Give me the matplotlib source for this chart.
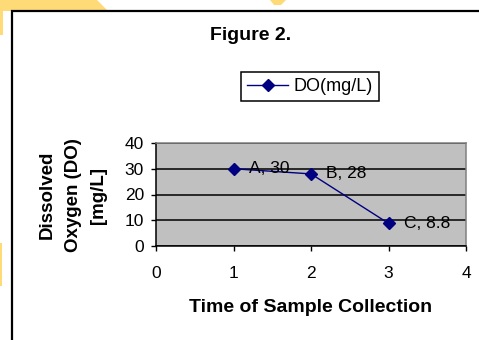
import matplotlib.pyplot as plt
from matplotlib.patches import Rectangle, Polygon

plt.rcParams['font.family'] = ['Liberation Sans', 'DejaVu Sans']

# data
sample_time = [1, 2, 3]
do_values = [30, 28, 8.8]
point_names = ['A', 'B', 'C']
x_ticks = [0, 1, 2, 3, 4]
y_ticks = [0, 10, 20, 30, 40]

W, H = 479, 340
fig = plt.figure(figsize=(W / 100, H / 100), dpi=100)
fig.patch.set_facecolor('white')

def fx(px):
    return px / W

def fy(py):
    return 1 - py / H

# yellow slide decoration bits around the chart frame
yellow = '#ffdb78'
fig.patches.append(Polygon([(fx(0), fy(0)), (fx(97), fy(0)), (fx(108), fy(11)),
                            (fx(3), fy(11)), (fx(3), fy(35)), (fx(0), fy(35))],
                           closed=True, transform=fig.transFigure, facecolor=yellow,
                           edgecolor='none', zorder=0))
fig.patches.append(Polygon([(fx(270), fy(0)), (fx(286), fy(0)), (fx(281), fy(5)), (fx(274), fy(5))],
                           closed=True, transform=fig.transFigure, facecolor=yellow,
                           edgecolor='none', zorder=0))
fig.patches.append(Rectangle((fx(0), fy(286)), fx(2), fy(243) - fy(286),
                             transform=fig.transFigure, facecolor=yellow,
                             edgecolor='none', zorder=0))
# chart border (runs off the right and bottom edges)
fig.patches.append(Rectangle((fx(12), fy(360)), fx(500), fy(11) - fy(360),
                             transform=fig.transFigure, facecolor='none',
                             edgecolor='black', linewidth=1.6, zorder=1))

ax = fig.add_axes([fx(156), fy(246), fx(310), (246 - 143) / H])
ax.set_facecolor('#c0c0c0')

ax.plot(sample_time, do_values, color='#000080', linewidth=1, marker='D',
        markersize=6, label='DO(mg/L)', zorder=3)

for x, y, name in zip(sample_time, do_values, point_names):
    ax.annotate(f'{name}, {y:g}', (x, y), xytext=(11, 0), textcoords='offset points',
                va='center', ha='left', fontsize=12.5, color='black', zorder=4)

ax.set_xlim(0, 4)
ax.set_ylim(0, 40)
ax.set_xticks(x_ticks)
ax.set_yticks(y_ticks)
ax.tick_params(axis='both', direction='out', length=3.6, width=1, labelsize=12.5)
ax.tick_params(axis='x', pad=10.5)
ax.tick_params(axis='y', pad=5)
ax.yaxis.grid(True, color='black', linewidth=1.1)
ax.set_axisbelow(True)

ax.spines['left'].set_color('black')
ax.spines['bottom'].set_color('black')
ax.spines['top'].set_color('#808080')
ax.spines['right'].set_color('#808080')
for s in ax.spines.values():
    s.set_linewidth(1.1)

fig.text(fx(251), fy(36), 'Figure 2.', ha='center', va='center',
         fontsize=14, fontweight='bold')
fig.text(fx(311), fy(308), 'Time of Sample Collection', ha='center', va='center',
         fontsize=14, fontweight='bold')
fig.text(fx(73), fy(195), 'Dissolved\nOxygen (DO)\n[mg/L]', ha='center', va='center',
         rotation=90, fontsize=13.5, fontweight='bold', linespacing=1.65,
         multialignment='center')

leg = ax.legend(loc='center', bbox_to_anchor=(fx(310), fy(86.5)),
                bbox_transform=fig.transFigure, fontsize=13, frameon=True,
                fancybox=False, edgecolor='black', framealpha=1,
                handlelength=2.3, handletextpad=0.3, borderpad=0.35,
                borderaxespad=0)
leg.get_frame().set_linewidth(1.1)

fig.savefig('out.png', dpi=100)
